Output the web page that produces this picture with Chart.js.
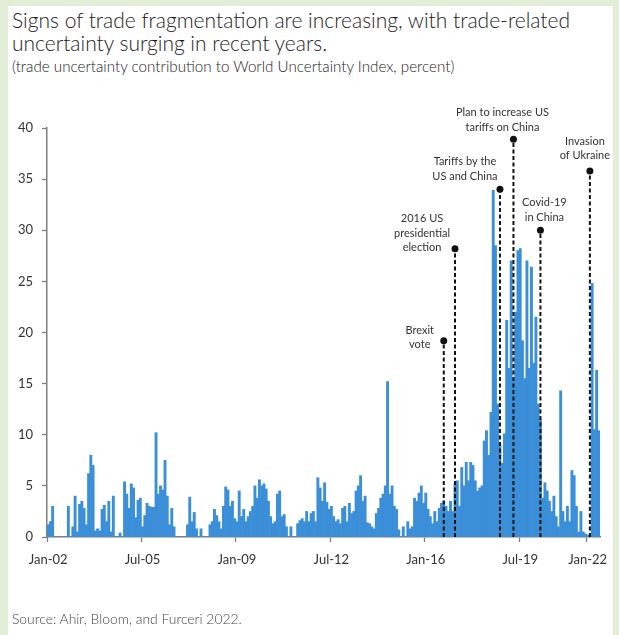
<!DOCTYPE html>
<html>
<head>
<meta charset="utf-8">
<script src="https://cdn.jsdelivr.net/npm/chart.js@4.4.0/dist/chart.umd.min.js"></script>
<style>
    html, body { margin: 0; padding: 0; }
    body {
        width: 619px; height: 635px; overflow: hidden; position: relative;
        background: #e3eed9; font-family: Lato, sans-serif; color: #333;
    }
    .panel { position: absolute; left: 8px; top: 6px; width: 605px; height: 629px; background: #fff; }
    .title { position: absolute; left: 12px; top: 8px; font-size: 21px; line-height: 23px; font-weight: 300; color: #222; white-space: nowrap; }
    .subtitle { position: absolute; left: 12px; top: 57px; font-size: 15.2px; font-weight: 300; color: #222; white-space: nowrap; }
    .source { position: absolute; left: 12px; top: 610px; font-size: 13.9px; font-weight: 300; color: #444; }
    #wrap { position: absolute; left: 0; top: 0; width: 619px; height: 635px; }
</style>
</head>
<body>
<div class="panel"></div>
<div class="title">Signs of trade fragmentation are increasing, with trade-related<br>uncertainty surging in recent years.</div>
<div class="subtitle">(trade uncertainty contribution to World Uncertainty Index, percent)</div>
<div id="wrap"><canvas id="chart" width="619" height="635"></canvas></div>
<div class="source">Source: Ahir, Bloom, and Furceri 2022.</div>

<script>
// трейд-неопределенность, по месяцам с Jan-02 (одна строка = один год)
const uncertainty = [
    1.2, 1.5, 3.0, 0, 0, 0, 0, 0, 0, 3.0, 0, 1.0,
    4.0, 0.5, 3.2, 3.5, 2.8, 1.2, 6.2, 8.0, 7.0, 0.6, 0.8, 0.6,
    2.7, 3.1, 1.5, 3.5, 0.5, 4.0, 0, 0, 0.4, 0, 5.4, 4.2,
    2.8, 5.2, 4.8, 1.9, 3.6, 3.8, 1.0, 2.1, 3.3, 3.0, 2.9, 2.9,
    10.2, 4.2, 5.0, 4.6, 7.5, 4.0, 1.2, 2.8, 1.0, 0, 0, 0,
    0, 0, 1.2, 3.9, 1.5, 2.4, 0.8, 0, 0.8, 0, 0, 0,
    1.2, 1.5, 2.7, 2.1, 1.5, 0.8, 3.0, 4.9, 4.6, 3.0, 3.5, 1.8,
    1.5, 4.5, 2.0, 2.7, 1.5, 2.0, 2.5, 3.0, 5.0, 3.8, 5.6, 5.0,
    5.2, 4.7, 3.5, 2.0, 1.3, 1.5, 4.2, 4.5, 2.0, 2.2, 1.0, 0,
    1.0, 0, 0, 1.3, 1.6, 1.8, 1.5, 2.5, 1.5, 2.3, 2.5, 1.5,
    5.8, 4.8, 3.5, 5.3, 3.4, 2.7, 3.0, 2.0, 1.5, 1.7, 1.3, 2.8,
    3.0, 1.5, 3.3, 2.3, 2.5, 4.5, 5.0, 6.0, 3.5, 4.0, 1.4, 1.3,
    1.0, 0.8, 2.3, 2.8, 3.8, 4.2, 5.0, 15.2, 4.2, 5.0, 3.0, 2.7,
    0.7, 0, 1.0, 0, 1.5, 0.8, 1.0, 3.8, 3.5, 4.3, 5.0, 3.3,
    4.3, 2.7, 2.0, 1.3, 2.5, 1.5, 2.8, 3.3, 3.5, 3.0, 2.5, 3.5,
    2.5, 5.2, 5.5, 3.0, 6.8, 5.0, 7.3, 5.5, 7.3, 7.0, 5.5, 4.5,
    4.8, 5.0, 9.4, 10.4, 8.0, 12.2, 33.9, 28.5, 13.0, 9.0, 7.2, 10.1,
    21.2, 16.5, 27.0, 15.5, 22.0, 28.0, 28.2, 19.2, 15.5, 27.0, 16.5, 26.4,
    17.0, 21.5, 13.0, 11.5, 3.8, 5.3, 4.5, 3.5, 2.5, 4.0, 2.0, 1.0,
    14.3, 2.5, 1.5, 3.0, 1.5, 6.5, 6.0, 3.0, 0.5, 2.5, 0.5, 0.3,
    0.2, 0, 24.8, 10.5, 16.3, 10.4
]

const tickLabels = ['Jan-02', 'Jul-05', 'Jan-09', 'Jul-12', 'Jan-16', 'Jul-19', 'Jan-22']

// события на графике
const eventLabels = [
    ['Brexit', 'vote'],
    ['2016 US', 'presidential', 'election'],
    ['Tariffs by the', 'US and China'],
    ['Plan to increase US', 'tariffs on China'],
    ['Covid-19', 'in China'],
    ['Invasion', 'of Ukraine']
]
const eventMonths = ['Sep-16', 'Feb-17', 'Oct-18', 'Apr-19', 'Apr-20', 'Feb-22']
const eventTops = [19.2, 28.2, 34.0, 38.9, 30.0, 35.8]

// сдвиг подписи (последней строки) относительно точки, px
const labelOffsets = [[-24, 4], [-33, -1], [-35, -13], [-11, -12], [4, -13], [-5, -15]]

const monthNames = ['Jan', 'Feb', 'Mar', 'Apr', 'May', 'Jun', 'Jul', 'Aug', 'Sep', 'Oct', 'Nov', 'Dec']
const months = uncertainty.map((_, i) => monthNames[i % 12] + '-' + String(2002 + Math.floor(i / 12)).slice(2))

const axisColor = '#7f7f7f'
const font = { family: 'Lato', size: 13 }

// пунктирные линии с точкой и подписью
const eventsPlugin = {
    id: 'events',
    afterDatasetsDraw(chart) {
        const { ctx, scales: { x, y } } = chart
        ctx.save()
        eventMonths.forEach((m, i) => {
            const px = x.getPixelForValue(months.indexOf(m))
            const py = y.getPixelForValue(eventTops[i])
            ctx.strokeStyle = '#111'
            ctx.lineWidth = 2
            ctx.setLineDash([4, 2.5])
            ctx.beginPath()
            ctx.moveTo(px, y.getPixelForValue(0))
            ctx.lineTo(px, py)
            ctx.stroke()
            ctx.setLineDash([])
            ctx.fillStyle = '#111'
            ctx.beginPath()
            ctx.arc(px, py, 3.5, 0, Math.PI * 2)
            ctx.fill()

            const lines = eventLabels[i]
            const [dx, dy] = labelOffsets[i]
            ctx.font = '11px Lato'
            ctx.fillStyle = '#333'
            ctx.textAlign = 'center'
            ctx.textBaseline = 'middle'
            lines.forEach((t, k) => {
                ctx.fillText(t, px + dx, py + dy - (lines.length - 1 - k) * 14.5)
            })
        })
        ctx.restore()
    }
}

const isLabeled = i => tickLabels.includes(months[i])

new Chart(document.getElementById('chart').getContext('2d'), {
    type: 'bar',
    data: {
        labels: months,
        datasets: [{
            data: uncertainty,
            backgroundColor: '#3b8fd8',
            borderWidth: 0,
            barPercentage: 1,
            categoryPercentage: 1
        }]
    },
    options: {
        responsive: false,
        animation: false,
        devicePixelRatio: 1,
        layout: { padding: { left: 0, top: 128, right: 19, bottom: 58 } },
        plugins: { legend: { display: false }, tooltip: { enabled: false } },
        scales: {
            x: {
                grid: {
                    drawOnChartArea: false,
                    tickLength: 5,
                    tickWidth: 1.3,
                    tickColor: c => isLabeled(c.index) ? axisColor : 'rgba(0,0,0,0)'
                },
                border: { color: axisColor, width: 1.5 },
                ticks: {
                    autoSkip: false,
                    maxRotation: 0,
                    minRotation: 0,
                    padding: 10,
                    color: '#333',
                    font: font,
                    callback: (v, i) => isLabeled(i) ? months[i] : ''
                },
                afterFit: s => { s.height = 40 }
            },
            y: {
                min: 0,
                max: 40,
                grid: { drawOnChartArea: false, tickLength: 5, tickWidth: 1.3, tickColor: axisColor },
                border: { color: axisColor, width: 1.5 },
                ticks: { stepSize: 5, padding: 9, color: '#333', font: font },
                afterFit: s => { s.width = 47 }
            }
        }
    },
    plugins: [eventsPlugin]
})
</script>
</body>
</html>
